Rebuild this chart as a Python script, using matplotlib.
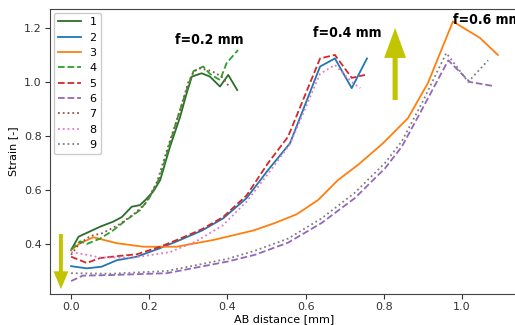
import matplotlib
matplotlib.use("Agg")
import matplotlib.pyplot as plt

# ---- data ----
labels = ["1", "2", "3", "4", "5", "6", "7", "8", "9"]

x1 = [0.0, 0.019, 0.074, 0.108, 0.13, 0.155, 0.176, 0.19, 0.21, 0.228, 0.253, 0.279, 0.296, 0.309, 0.334, 0.355, 0.381, 0.402, 0.425]
y1 = [0.378, 0.427, 0.464, 0.483, 0.50, 0.538, 0.544, 0.563, 0.594, 0.637, 0.76, 0.871, 0.96, 1.02, 1.032, 1.02, 0.983, 1.026, 0.97]

x2 = [0.0, 0.04, 0.078, 0.117, 0.168, 0.228, 0.279, 0.335, 0.389, 0.449, 0.504, 0.56, 0.637, 0.675, 0.718, 0.757]
y2 = [0.318, 0.31, 0.316, 0.34, 0.353, 0.385, 0.415, 0.45, 0.495, 0.57, 0.674, 0.773, 1.057, 1.087, 0.977, 1.087]

x3 = [0.0, 0.023, 0.057, 0.117, 0.185, 0.27, 0.364, 0.466, 0.52, 0.577, 0.632, 0.683, 0.734, 0.798, 0.862, 0.913, 0.977, 1.046, 1.092]
y3 = [0.378, 0.403, 0.425, 0.403, 0.39, 0.39, 0.415, 0.45, 0.477, 0.51, 0.563, 0.637, 0.693, 0.773, 0.866, 0.996, 1.224, 1.163, 1.10]

x4 = [0.0, 0.023, 0.04, 0.074, 0.107, 0.142, 0.176, 0.2, 0.228, 0.25, 0.275, 0.3, 0.313, 0.338, 0.355, 0.381, 0.398, 0.427]
y4 = [0.38, 0.41, 0.40, 0.42, 0.45, 0.49, 0.525, 0.57, 0.65, 0.76, 0.88, 0.99, 1.04, 1.057, 1.03, 1.007, 1.07, 1.118]

x5 = [0.0, 0.04, 0.074, 0.117, 0.168, 0.228, 0.279, 0.335, 0.389, 0.449, 0.504, 0.555, 0.637, 0.675, 0.718, 0.752]
y5 = [0.353, 0.33, 0.348, 0.355, 0.362, 0.39, 0.42, 0.455, 0.50, 0.58, 0.70, 0.797, 1.087, 1.10, 1.015, 1.026]

x6 = [0.0, 0.03, 0.1, 0.245, 0.4, 0.47, 0.555, 0.641, 0.726, 0.803, 0.846, 0.897, 0.965, 1.02, 1.08]
y6 = [0.263, 0.283, 0.285, 0.292, 0.335, 0.36, 0.405, 0.478, 0.57, 0.68, 0.76, 0.896, 1.08, 1.0, 0.985]

x7 = [0.0, 0.02, 0.05, 0.08, 0.12, 0.16, 0.19, 0.22, 0.25, 0.28, 0.30, 0.315, 0.33, 0.36, 0.385, 0.407]
y7 = [0.36, 0.40, 0.43, 0.44, 0.47, 0.51, 0.55, 0.63, 0.77, 0.90, 1.0, 1.04, 1.05, 1.04, 1.02, 0.978]

x8 = [0.0, 0.04, 0.074, 0.16, 0.253, 0.32, 0.389, 0.449, 0.504, 0.56, 0.637, 0.675, 0.718, 0.74]
y8 = [0.37, 0.36, 0.35, 0.35, 0.37, 0.41, 0.47, 0.557, 0.66, 0.77, 1.03, 1.063, 1.0, 0.977]

x9 = [0.0, 0.1, 0.245, 0.4, 0.47, 0.555, 0.641, 0.726, 0.803, 0.846, 0.897, 0.96, 1.016, 1.067]
y9 = [0.292, 0.29, 0.30, 0.345, 0.375, 0.42, 0.495, 0.59, 0.70, 0.78, 0.92, 1.107, 1.0, 1.08]

series_x = [x1, x2, x3, x4, x5, x6, x7, x8, x9]
series_y = [y1, y2, y3, y4, y5, y6, y7, y8, y9]

colors = ["#2b6e2b", "#1f77b4", "#ff7f0e", "#2ca02c", "#d62728", "#9467bd", "#8c564b", "#e377c2", "#7f7f7f"]
styles = ["-", "-", "-", "--", "--", "--", ":", ":", ":"]

annot_texts = ["f=0.2 mm", "f=0.4 mm", "f=0.6 mm"]
annot_x = [0.266, 0.619, 0.977]
annot_y = [1.155, 1.181, 1.23]

# ---- figure ----
fig = plt.figure(figsize=(5.15, 3.25), dpi=100)
ax = fig.add_axes([50 / 515, 1 - 294 / 325, 469 / 515, 285 / 325])

for xs, ys, c, ls, lab in zip(series_x, series_y, colors, styles, labels):
    ax.plot(xs, ys, color=c, linestyle=ls, linewidth=1.3, label=lab)

for t, tx, ty in zip(annot_texts, annot_x, annot_y):
    ax.text(tx, ty, t, fontsize=10, fontweight="bold", fontstretch="condensed",
            ha="left", va="center")

# arrows
ax.arrow(0.829, 0.933, 0, 0.267, width=0.013, head_width=0.056, head_length=0.111,
         length_includes_head=True, color="#c2c400", ec="none")
ax.arrow(-0.026, 0.437, 0, -0.204, width=0.010, head_width=0.038, head_length=0.066,
         length_includes_head=True, color="#c2c400", ec="none")

ax.set_xlim(-0.054, 1.146)
ax.set_ylim(0.215, 1.27)
ax.set_xticks([0.0, 0.2, 0.4, 0.6, 0.8, 1.0])
ax.set_yticks([0.4, 0.6, 0.8, 1.0, 1.2])
ax.tick_params(labelsize=8, colors="#333333", pad=2.5)
ax.set_xlabel("AB distance [mm]", fontsize=8, labelpad=1)
ax.set_ylabel("Strain [-]", fontsize=8, labelpad=4)
for s in ax.spines.values():
    s.set_color("#444444")

ax.legend(loc="upper left", fontsize=8, labelspacing=0.48, handlelength=2.0,
          borderaxespad=0.35, framealpha=1.0)

fig.savefig("out.png", dpi=100)
